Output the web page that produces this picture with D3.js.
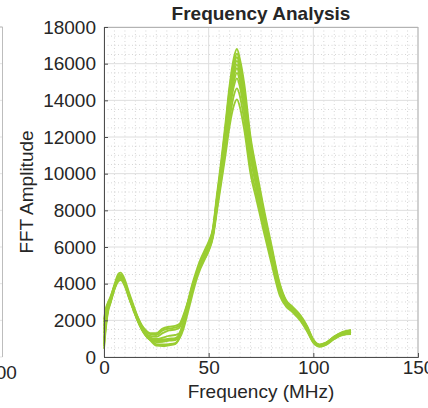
<!DOCTYPE html>
<html>
<head>
<meta charset="utf-8">
<script src="https://cdn.jsdelivr.net/npm/d3@7"></script>
<style>
  html, body { margin: 0; padding: 0; background: #fff; }
  svg { display: block; }
  text { font-family: "Liberation Sans", Arial, Helvetica, sans-serif; fill: #262626; }
</style>
</head>
<body>
<svg id="chart" width="428" height="408"></svg>
<script>
// ---- data ----
const chartTitle = "Frequency Analysis";
const xLabel = "Frequency (MHz)";
const yLabel = "FFT Amplitude";
const xTicks = [0, 50, 100, 150];
const yTicks = [0, 2000, 4000, 6000, 8000, 10000, 12000, 14000, 16000, 18000];
const freqMHz = [0,1,2,3,5,7,8,10,12,14,16,18,20,22,25,28,31,34,36,38,40,42,44,46,48,50,52,54,56,58,60,62,63.5,65,67,70,73,76,80,84,87,90,94,97,100,103,106,110,114,118];

const trace1 = [1900,2600,2950,3200,3950,4550,4600,4200,3500,2850,2200,1650,1250,1000,880,900,960,990,1150,1750,2650,3550,4400,5100,5600,6150,7000,8900,10700,12700,14800,16300,16800,16200,14900,12000,10100,8300,6100,4000,3100,2750,2250,1700,950,650,760,1120,1370,1480];
const trace2 = [600,1900,2650,3000,3800,4400,4450,4050,3350,2700,2100,1600,1200,960,700,680,700,750,1050,1700,2600,3500,4350,5000,5500,6000,6850,8700,10500,12500,14600,16000,16550,16000,14500,11500,9500,7700,5650,3650,2900,2600,2100,1550,860,600,700,1040,1280,1380];
const trace3 = [1500,2400,2850,3100,3850,4350,4400,4000,3300,2650,2050,1550,1180,950,820,830,890,930,1080,1750,2700,3650,4450,5100,5550,6050,6800,8600,10400,12300,14400,15850,16350,15800,14500,11800,9900,8100,5950,3900,3050,2700,2200,1650,920,660,760,1110,1340,1420];
const trace4 = [450,1700,2500,2900,3700,4250,4300,3900,3250,2600,2000,1500,1150,920,620,600,640,700,1000,1550,2400,3300,4150,4800,5300,5800,6600,8300,10100,12000,14100,15650,16150,15600,14100,11300,9400,7650,5600,3650,2900,2600,2100,1550,870,630,730,1060,1290,1360];
const trace5 = [2050,2700,3000,3250,3900,4450,4500,4100,3400,2750,2150,1650,1280,1050,930,950,1000,1030,1250,1950,2950,3900,4650,5300,5800,6300,6950,8700,10300,12000,14000,15450,15950,15400,14000,11200,9350,7650,5650,3700,2950,2650,2150,1600,920,680,780,1100,1320,1400];
const trace6 = [900,2000,2700,3050,3800,4300,4350,3950,3250,2600,2000,1520,1170,950,840,860,920,950,1120,1800,2750,3700,4500,5150,5600,6100,6800,8500,10200,11900,13900,15250,15750,15200,13800,11100,9300,7600,5600,3650,2900,2600,2100,1550,880,650,750,1070,1300,1380];
const trace7 = [1300,2250,2800,3100,3850,4350,4400,4000,3300,2650,2050,1580,1250,1050,980,1050,1150,1200,1300,1900,2800,3700,4450,5100,5550,6000,6700,8350,10000,11700,13700,15000,15500,15000,13700,11000,9250,7550,5550,3650,2900,2600,2100,1550,870,640,740,1060,1280,1350];
const trace8 = [1000,2100,2700,3000,3750,4250,4300,3950,3300,2700,2150,1700,1400,1250,1200,1450,1550,1600,1700,2200,2950,3750,4500,5100,5500,5950,6650,8250,9900,11600,13400,14750,15200,14700,13400,10900,9200,7500,5550,3650,2900,2580,2080,1520,850,620,720,1040,1260,1330];
const trace9 = [1700,2500,2900,3150,3800,4250,4300,3950,3350,2750,2200,1750,1450,1300,1300,1550,1650,1700,1800,2300,3000,3800,4500,5050,5450,5900,6600,8150,9700,11300,13000,14250,14650,14200,12900,10400,8800,7200,5300,3450,2800,2500,2000,1450,800,580,680,1000,1220,1280];
const trace10 = [700,1850,2600,2950,3700,4150,4200,3850,3200,2600,2050,1600,1300,1150,1100,1300,1450,1500,1600,2150,2900,3700,4400,4950,5350,5800,6500,8000,9500,11000,12600,13700,14050,13600,12400,10000,8500,7000,5100,3350,2750,2450,1950,1400,780,560,660,980,1200,1250];
const traces = [trace1, trace2, trace3, trace4, trace5, trace6, trace7, trace8, trace9, trace10];

// ---- layout ----
const svg = d3.select("#chart");
const L = 104, R = 418, T = 27, B = 357;
const x = d3.scaleLinear().domain([0, 150]).range([L, R]);
const y = d3.scaleLinear().domain([0, 18000]).range([B, T]);

// partial neighbouring subplot at the far left
const nb = svg.append("g");
yTicks.forEach(v => nb.append("line").attr("x1", 0).attr("x2", 2.5)
  .attr("y1", y(v)).attr("y2", y(v)).attr("stroke", "#e3e3e3"));
nb.append("line").attr("x1", 2.5).attr("x2", 2.5).attr("y1", T).attr("y2", B)
  .attr("stroke", "#bdbdbd");
nb.append("line").attr("x1", 0).attr("x2", 2.5).attr("y1", T).attr("y2", T)
  .attr("stroke", "#bdbdbd");
nb.append("text").attr("x", 1).attr("y", 379).attr("text-anchor", "middle")
  .attr("font-size", 19).text("100");

// minor grid
const gMinor = svg.append("g");
d3.range(0, 150.1, 5).forEach(v => {
  if (v % 50 === 0) return;
  gMinor.append("line").attr("x1", x(v)).attr("x2", x(v)).attr("y1", T).attr("y2", B)
    .attr("stroke", "#c4c4c4").attr("stroke-width", 0.7).attr("stroke-dasharray", "1,2.5");
});
d3.range(0, 18001, 500).forEach(v => {
  if (v % 2000 === 0) return;
  gMinor.append("line").attr("x1", L).attr("x2", R).attr("y1", y(v)).attr("y2", y(v))
    .attr("stroke", "#c4c4c4").attr("stroke-width", 0.7).attr("stroke-dasharray", "1,2.5");
});

// major grid
const gMajor = svg.append("g");
xTicks.forEach(v => gMajor.append("line").attr("x1", x(v)).attr("x2", x(v))
  .attr("y1", T).attr("y2", B).attr("stroke", "#dedede").attr("stroke-width", 1));
yTicks.forEach(v => gMajor.append("line").attr("x1", L).attr("x2", R)
  .attr("y1", y(v)).attr("y2", y(v)).attr("stroke", "#dedede").attr("stroke-width", 1));

// traces
const line = d3.line().x((d, i) => x(freqMHz[i])).y(d => y(d)).curve(d3.curveMonotoneX);
svg.append("g").selectAll("path").data(traces).join("path")
  .attr("d", line).attr("fill", "none")
  .attr("stroke", "#9ACD32").attr("stroke-width", 1.9).attr("stroke-linejoin", "round");

// axes (MATLAB-like, inward ticks, box on)
const axisColor = "#4d4d4d";
const boxColor = "#b3b3b3";
svg.append("line").attr("x1", L).attr("x2", R).attr("y1", T + 0.5).attr("y2", T + 0.5).attr("stroke", boxColor);
svg.append("line").attr("x1", R).attr("x2", R).attr("y1", T).attr("y2", B).attr("stroke", boxColor);

const yAxis = d3.axisLeft(y).tickValues(yTicks).tickSize(-4).tickPadding(12).tickFormat(d3.format("d"));
const gy = svg.append("g").attr("transform", `translate(${L},0)`).call(yAxis);
const xAxis = d3.axisBottom(x).tickValues(xTicks).tickSize(-4).tickPadding(10).tickFormat(d3.format("d"));
const gx = svg.append("g").attr("transform", `translate(0,${B})`).call(xAxis);
[gx, gy].forEach(g => {
  g.select(".domain").attr("stroke", axisColor);
  g.selectAll(".tick line").attr("stroke", axisColor);
  g.selectAll(".tick text").attr("font-size", 19).attr("fill", "#262626")
    .style("font-family", '"Liberation Sans", Arial, sans-serif');
});
gy.selectAll(".tick text").attr("x", -8);
gx.selectAll(".tick text").attr("y", 4).attr("dy", "0.71em");

// titles
svg.append("text").attr("x", (L + R) / 2).attr("y", 20).attr("text-anchor", "middle")
  .attr("font-size", 19).attr("font-weight", "bold").attr("fill", "#000").text(chartTitle);
svg.append("text").attr("x", (L + R) / 2).attr("y", 398).attr("text-anchor", "middle")
  .attr("font-size", 19).text(xLabel);
svg.append("text").attr("transform", `translate(33,${(T + B) / 2}) rotate(-90)`)
  .attr("text-anchor", "middle").attr("font-size", 19).text(yLabel);
</script>
</body>
</html>
